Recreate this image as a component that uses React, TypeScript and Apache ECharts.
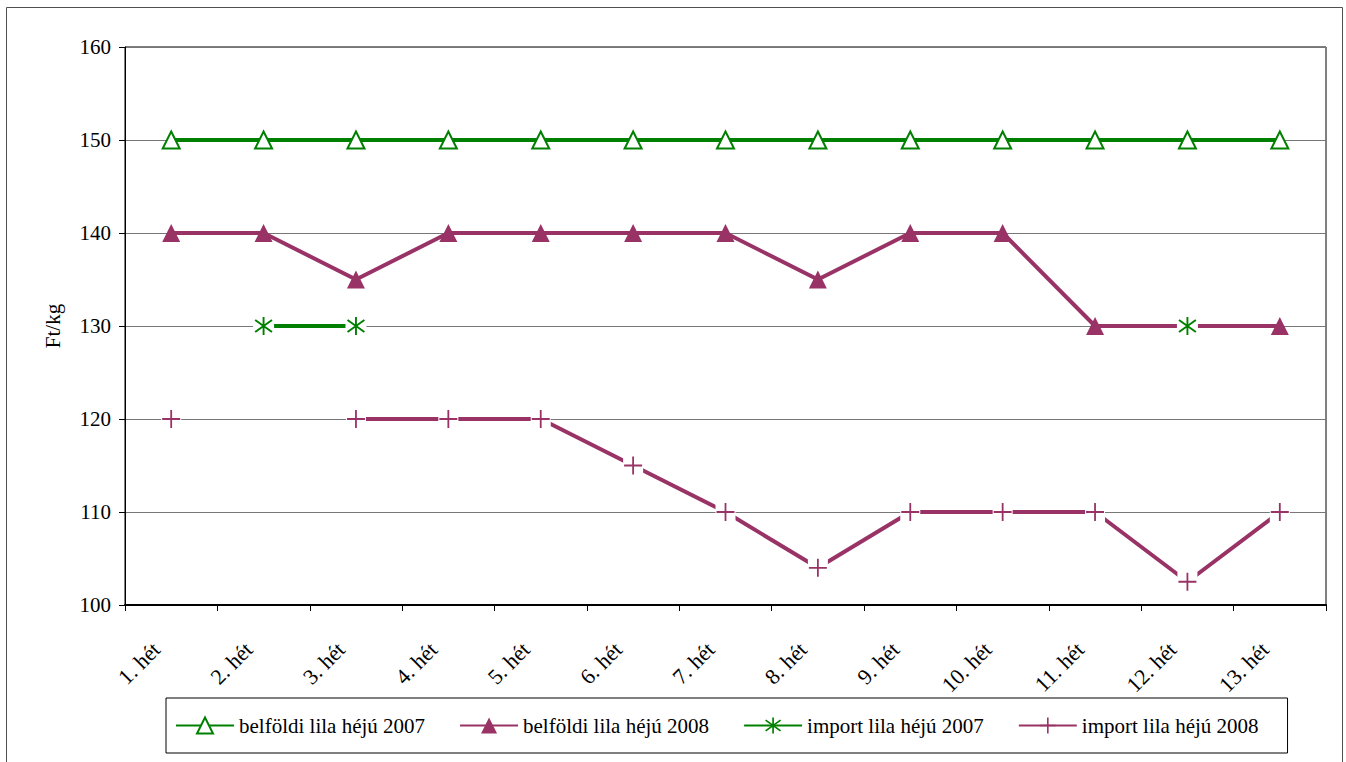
import React, { useEffect, useRef } from "react";
import * as echarts from "echarts";

const weeks = [
  "1. hét", "2. hét", "3. hét", "4. hét", "5. hét", "6. hét", "7. hét",
  "8. hét", "9. hét", "10. hét", "11. hét", "12. hét", "13. hét",
];
const seriesNames = [
  "belföldi lila héjú 2007",
  "belföldi lila héjú 2008",
  "import lila héjú 2007",
  "import lila héjú 2008",
];
const belfoldi2007 = [150, 150, 150, 150, 150, 150, 150, 150, 150, 150, 150, 150, 150];
const belfoldi2008 = [140, 140, 135, 140, 140, 140, 140, 135, 140, 140, 130, 130, 130];
const import2007 = [null, 130, 130, null, null, null, null, null, null, null, null, 130, null];
const import2008 = [120, null, 120, 120, 120, 115, 110, 104, 110, 110, 110, 102.5, 110];
const yMin = 100;
const yMax = 160;
const yInterval = 10;

const GREEN = "#008000";
const PURPLE = "#993366";
const FONT = "'Liberation Serif', 'Times New Roman', serif";

const PLUS = "path://M8.1,0H9.9V8.1H18V9.9H9.9V18H8.1V9.9H0V8.1H8.1Z";
const ASTER =
  "path://M8.1,0H9.9V18H8.1Z" +
  "M1.54,2.28L17.54,14.28L16.46,15.72L0.46,3.72Z" +
  "M0.46,14.28L16.46,2.28L17.54,3.72L1.54,15.72Z";

const toData = (arr: (number | null)[]) => arr.map((v) => (v == null ? "-" : v));

export default function App() {
  const ref = useRef<HTMLDivElement>(null);
  useEffect(() => {
    if (!ref.current) return;
    const chart = echarts.init(ref.current, undefined, { renderer: "svg" });
    const hidden = { width: 0, opacity: 0 };
    chart.setOption({
      animation: false,
      textStyle: { fontFamily: FONT },
      graphic: [
        {
          type: "rect",
          shape: { x: 6.5, y: 7.5, width: 1336, height: 800 },
          style: { fill: "none", stroke: "#505050", lineWidth: 1 },
          silent: true,
        },
      ],
      grid: {
        left: 125,
        right: 20,
        top: 47,
        bottom: 157,
        show: true,
        borderColor: "#000",
        borderWidth: 1,
        containLabel: false,
      },
      legend: {
        data: seriesNames,
        left: 166,
        top: 698,
        orient: "horizontal",
        selectedMode: false,
        borderColor: "#000",
        borderWidth: 1,
        padding: [17, 29, 17, 9],
        itemGap: 34,
        itemWidth: 58,
        itemHeight: 20,
        textStyle: { fontFamily: FONT, fontSize: 21, color: "#000" },
      },
      xAxis: {
        type: "category",
        data: weeks,
        boundaryGap: true,
        axisLine: { lineStyle: { color: "#000", width: 2 } },
        axisTick: { show: true, alignWithLabel: false, length: 6, lineStyle: { color: "#000" } },
        axisLabel: {
          interval: 0,
          rotate: 45,
          margin: 26,
          padding: [0, 21, 0, 0],
          fontSize: 22,
          color: "#000",
          fontFamily: FONT,
        },
        splitLine: { show: false },
      },
      yAxis: {
        type: "value",
        min: yMin,
        max: yMax,
        interval: yInterval,
        name: "Ft/kg",
        nameLocation: "middle",
        nameGap: 62,
        nameRotate: 90,
        nameTextStyle: { fontSize: 21, color: "#000", fontFamily: FONT },
        axisLine: { show: true, lineStyle: { color: "#000" } },
        axisTick: { show: true, length: 6, lineStyle: { color: "#000" } },
        axisLabel: { fontSize: 21, color: "#000", margin: 14, fontFamily: FONT },
        splitLine: { show: true, lineStyle: { color: "#777", width: 1 } },
      },
      series: [
        {
          type: "line",
          name: seriesNames[0],
          data: toData(belfoldi2007),
          z: 2,
          symbol: "triangle",
          symbolSize: 17,
          showSymbol: true,
          itemStyle: { color: "#fff", borderColor: GREEN, borderWidth: 2 },
          lineStyle: { color: GREEN, width: 4 },
          emphasis: { disabled: true },
        },
        {
          type: "line",
          name: seriesNames[1],
          data: toData(belfoldi2008),
          z: 3,
          symbol: "triangle",
          symbolSize: 18,
          itemStyle: { color: PURPLE },
          lineStyle: { color: PURPLE, width: 4 },
          emphasis: { disabled: true },
        },
        {
          type: "line",
          name: seriesNames[2],
          data: toData(import2007),
          z: 4,
          symbol: ASTER,
          symbolSize: 18,
          connectNulls: false,
          itemStyle: { color: GREEN },
          lineStyle: { color: GREEN, width: 4 },
          emphasis: { disabled: true },
        },
        {
          type: "line",
          name: "_halo3",
          data: toData(import2007),
          z: 5,
          symbol: "rect",
          symbolSize: 21,
          itemStyle: { color: "#fff" },
          lineStyle: hidden,
          silent: true,
          emphasis: { disabled: true },
        },
        {
          type: "line",
          name: "_mark3",
          data: toData(import2007),
          z: 6,
          symbol: ASTER,
          symbolSize: 18,
          itemStyle: { color: GREEN },
          lineStyle: hidden,
          silent: true,
          emphasis: { disabled: true },
        },
        {
          type: "line",
          name: seriesNames[3],
          data: toData(import2008),
          z: 7,
          symbol: PLUS,
          symbolSize: 18,
          connectNulls: false,
          itemStyle: { color: PURPLE },
          lineStyle: { color: PURPLE, width: 4 },
          emphasis: { disabled: true },
        },
        {
          type: "line",
          name: "_halo4",
          data: toData(import2008),
          z: 8,
          symbol: "rect",
          symbolSize: 20,
          itemStyle: { color: "#fff" },
          lineStyle: hidden,
          silent: true,
          emphasis: { disabled: true },
        },
        {
          type: "line",
          name: "_mark4",
          data: toData(import2008),
          z: 9,
          symbol: PLUS,
          symbolSize: 18,
          itemStyle: { color: PURPLE },
          lineStyle: hidden,
          silent: true,
          emphasis: { disabled: true },
        },
      ],
    });
    return () => chart.dispose();
  }, []);
  return (
    <div
      ref={ref}
      style={{ position: "absolute", left: 0, top: 0, width: 1346, height: 762 }}
    />
  );
}
